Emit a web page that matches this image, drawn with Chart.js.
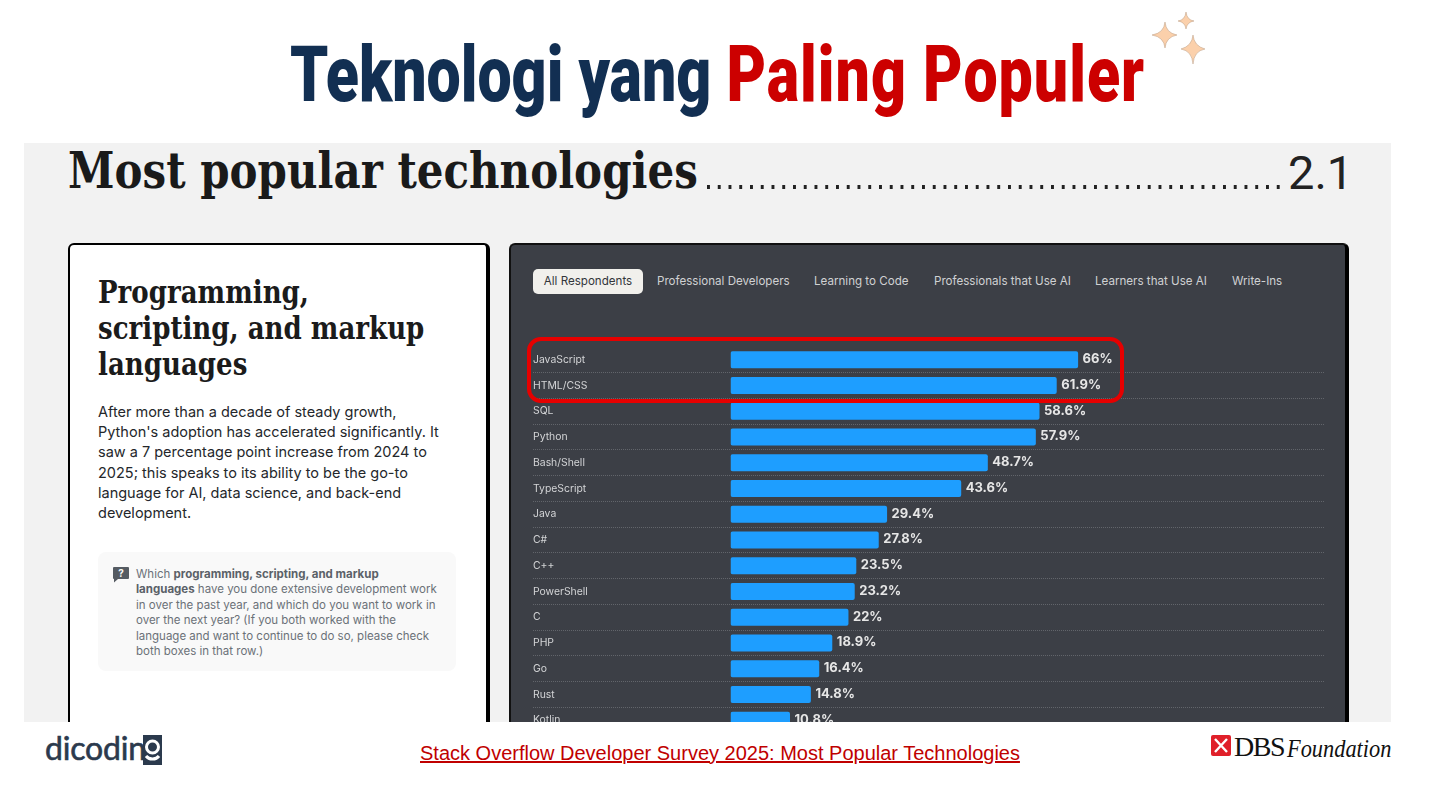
<!DOCTYPE html>
<html lang="id">
<head>
<meta charset="utf-8">
<title>Teknologi yang Paling Populer</title>
<script src="https://cdn.jsdelivr.net/npm/chart.js@4"></script>
<style>
  html, body { margin: 0; padding: 0; background: #fff; }
  body { position: relative; width: 1440px; height: 810px; overflow: hidden; font-family: Inter, sans-serif; }
  .abs { position: absolute; white-space: nowrap; }
  #title { left: 290px; top: 25px; font: 900 78px/100px Roboto, sans-serif; color: #122f52; transform: scaleX(.78); transform-origin: left top; }
  #title b { color: #cc0000; font-weight: 900; letter-spacing: 1.3px; }
  #panel { left: 24px; top: 143px; width: 1367px; height: 579px; background: #f2f2f2; }
  #heading { left: 68px; top: 141px; font: bold 50px/60px "DejaVu Serif", serif; color: #1a1a1a; transform: scaleX(.84); transform-origin: left top; }
  #dots { left: 707px; top: 185px; width: 573px; height: 3.5px; background: linear-gradient(90deg, #222 3.3px, transparent 3.3px) 0 0 / 10.75px 100% repeat-x; }
  #num { left: 1288px; top: 143px; font: 400 47px/60px Roboto, sans-serif; color: #222; }
  #card { left: 68px; top: 243px; width: 416px; height: 500px; background: #fff; border: 2px solid #000; border-right-width: 4px; border-radius: 6px; box-sizing: content-box; }
  #cardTitle { left: 98px; top: 274px; font: bold 31px/36px "DejaVu Serif", serif; color: #1b1b1b; transform: scaleX(.841); transform-origin: left top; }
  #cardBody { left: 98px; top: 402px; font: 14.5px/20.2px Inter, sans-serif; color: #24272b; }
  #qBox { left: 98px; top: 552px; width: 358px; height: 119px; background: #f9f9f9; border-radius: 8px; }
  #qText { left: 136px; top: 567px; font: 11.5px/15.4px Inter, sans-serif; color: #6b7178; }
  #qText b { color: #5b6168; }
  #qIcon { left: 113px; top: 567px; }
  #dark { left: 509px; top: 243px; height: 500px; background: #3c3f46; border-top: 2px solid #111; border-right: 4px solid #000; border-left: 2px solid #111; border-radius: 6px; box-sizing: border-box; width: 840px; }
  .tab { top: 269px; height: 25px; font: 11.6px/25px Inter, sans-serif; color: #d0d1d3; }
  .tab.on { background: #f1f0ec; color: #33363b; border-radius: 5px; text-align: center; }
  #chartBox { left: 533px; top: 347px; width: 792px; height: 386px; }
  #redBox { left: 527px; top: 337px; width: 597px; height: 66px; border: 4px solid #e60000; border-radius: 14px; box-sizing: border-box; }
  #footer { left: 0; top: 722px; width: 1440px; height: 88px; background: #fff; }
  #link { left: 420px; top: 741px; font: 20px/24px "Liberation Sans", Arial, sans-serif; color: #c00000; text-decoration: underline; }
  #dicoding { left: 45px; top: 729px; font: 400 32px/38px Lato, sans-serif; color: #2b3a4d; letter-spacing: -.2px; -webkit-text-stroke: .6px #2b3a4d; }
  #dicoG { left: 143px; top: 735px; width: 19px; height: 30px; }
  #dbsMark { left: 1211px; top: 735px; }
  #dbs { left: 1234px; top: 731px; font: 28px/32px "Liberation Serif", serif; color: #111; letter-spacing: -1.5px; }
  #foundation { left: 1287px; top: 732px; font: italic 26px/34px "Liberation Serif", serif; color: #111; transform: scaleX(.86); transform-origin: left top; }
</style>
</head>
<body>
<div id="title" class="abs">Teknologi yang <b>Paling Populer</b></div>
<div id="panel" class="abs"></div>
<div id="heading" class="abs">Most popular technologies</div>
<div id="dots" class="abs"></div>
<div id="num" class="abs">2.1</div>

<div id="card" class="abs"></div>
<div id="cardTitle" class="abs">Programming,<br>scripting, and markup<br>languages</div>
<div id="cardBody" class="abs">After more than a decade of steady growth,<br>Python's adoption has accelerated significantly. It<br>saw a 7 percentage point increase from 2024 to<br>2025; this speaks to its ability to be the go-to<br>language for AI, data science, and back-end<br>development.</div>
<div id="qBox" class="abs"></div>
<svg id="qIcon" class="abs" width="16" height="16" viewBox="0 0 16 16"><path d="M1 0h14a1 1 0 0 1 1 1v10a1 1 0 0 1-1 1H5l-4 3.5V12a1 1 0 0 1-1-1V1a1 1 0 0 1 1-1z" fill="#555b62"/><text x="8" y="10" text-anchor="middle" font-family="Inter" font-size="10" font-weight="700" fill="#f9f9f9">?</text></svg>
<div id="qText" class="abs">Which <b>programming, scripting, and markup</b><br><b>languages</b> have you done extensive development work<br>in over the past year, and which do you want to work in<br>over the next year? (If you both worked with the<br>language and want to continue to do so, please check<br>both boxes in that row.)</div>

<div id="dark" class="abs"></div>
<div id="tabs"></div>
<div id="chartBox" class="abs"><canvas id="chart"></canvas></div>
<div id="redBox" class="abs"></div>

<div id="footer" class="abs"></div>
<div id="link" class="abs">Stack Overflow Developer Survey 2025: Most Popular Technologies</div>
<div id="dicoding" class="abs">dicodin</div>
<svg id="dicoG" class="abs" viewBox="0 0 19 30"><rect width="19" height="30" fill="#2b3a4d"/><circle cx="9.5" cy="12" r="6" fill="none" stroke="#fff" stroke-width="3"/><path d="M3 21c3 4 10 4 13 0" fill="none" stroke="#fff" stroke-width="3"/></svg>
<svg id="dbsMark" class="abs" width="20" height="21" viewBox="0 0 20 21"><rect width="20" height="21" rx="2" fill="#e0202a"/><path d="M4 4l12 13M16 4L4 17" stroke="#fff" stroke-width="2.4"/></svg>
<div id="dbs" class="abs">DBS</div>
<div id="foundation" class="abs">Foundation</div>

<svg class="abs" style="left:1150px;top:10px" width="58" height="56" viewBox="0 0 58 56">
  <g fill="#fbd0ab" stroke="#b89a80" stroke-width=".5">
    <path d="M15 12 Q16 23 27 25 Q16 27 15 38 Q14 27 2 25 Q14 23 15 12z"/>
    <path d="M36 2 Q37 10 44 11 Q37 12 36 19 Q35 12 28 11 Q35 10 36 2z"/>
    <path d="M43 25 Q44 36 55 39 Q44 41 43 54 Q42 41 31 39 Q42 36 43 25z"/>
  </g>
</svg>

<script>
// values
const languages = ['JavaScript', 'HTML/CSS', 'SQL', 'Python', 'Bash/Shell', 'TypeScript', 'Java', 'C#', 'C++', 'PowerShell', 'C', 'PHP', 'Go', 'Rust', 'Kotlin'];
const usage = [66, 61.9, 58.6, 57.9, 48.7, 43.6, 29.4, 27.8, 23.5, 23.2, 22, 18.9, 16.4, 14.8, 10.8];
const tabLabels = ['All Respondents', 'Professional Developers', 'Learning to Code', 'Professionals that Use AI', 'Learners that Use AI', 'Write-Ins'];
const tabLeft = [533, 657, 814, 934, 1095, 1232];

// filter tabs above the chart
tabLabels.forEach(function(label, i) {
    const tab = document.createElement('div');
    tab.className = 'abs tab' + (i === 0 ? ' on' : '');
    tab.textContent = label;
    tab.style.left = tabLeft[i] + 'px';
    if (i === 0) tab.style.width = '110px';
    document.getElementById('tabs').appendChild(tab);
});

// percentage text at the end of every bar
const valueLabels = {
    id: 'valueLabels',
    afterDatasetsDraw(chart) {
        const ctx = chart.ctx;
        ctx.save();
        ctx.font = '700 13px Inter, sans-serif';
        ctx.fillStyle = '#e6e6e6';
        ctx.textAlign = 'left';
        ctx.textBaseline = 'middle';
        chart.getDatasetMeta(0).data.forEach(function(bar, i) {
            ctx.fillText(usage[i] + '%', bar.x + 4.5, bar.y - 0.5);
        });
        ctx.restore();
    }
};

new Chart(document.getElementById('chart'), {
    type: 'bar',
    data: {
        labels: languages,
        datasets: [{
            data: usage,
            base: -0.6,
            backgroundColor: '#1e9eff',
            borderRadius: 2,
            borderSkipped: false,
            categoryPercentage: 1,
            barPercentage: 0.66
        }]
    },
    options: {
        indexAxis: 'y',
        responsive: true,
        maintainAspectRatio: false,
        animation: false,
        layout: { padding: 0 },
        plugins: { legend: { display: false }, tooltip: { enabled: false } },
        scales: {
            x: { display: false, min: -0.6, max: 113.3 },
            y: {
                offset: true,
                border: { display: false, dash: [1, 1] },
                afterFit(scale) {
                    scale.width = 197.5;
                    scale.paddingTop = 0;
                    scale.paddingBottom = 0;
                },
                grid: {
                    offset: true,
                    drawTicks: true,
                    tickLength: 197.5,
                    color: ctx => ctx.index === 0 ? 'transparent' : '#62656b',
                    tickColor: ctx => ctx.index === 0 ? 'transparent' : '#62656b',
                    lineWidth: 1,
                    tickBorderDash: [1, 1]
                },
                ticks: {
                    autoSkip: false,
                    crossAlign: 'far',
                    color: '#d3d4d6',
                    font: { family: 'Inter, sans-serif', size: 10.4 }
                }
            }
        }
    },
    plugins: [valueLabels]
});
</script>
</body>
</html>
